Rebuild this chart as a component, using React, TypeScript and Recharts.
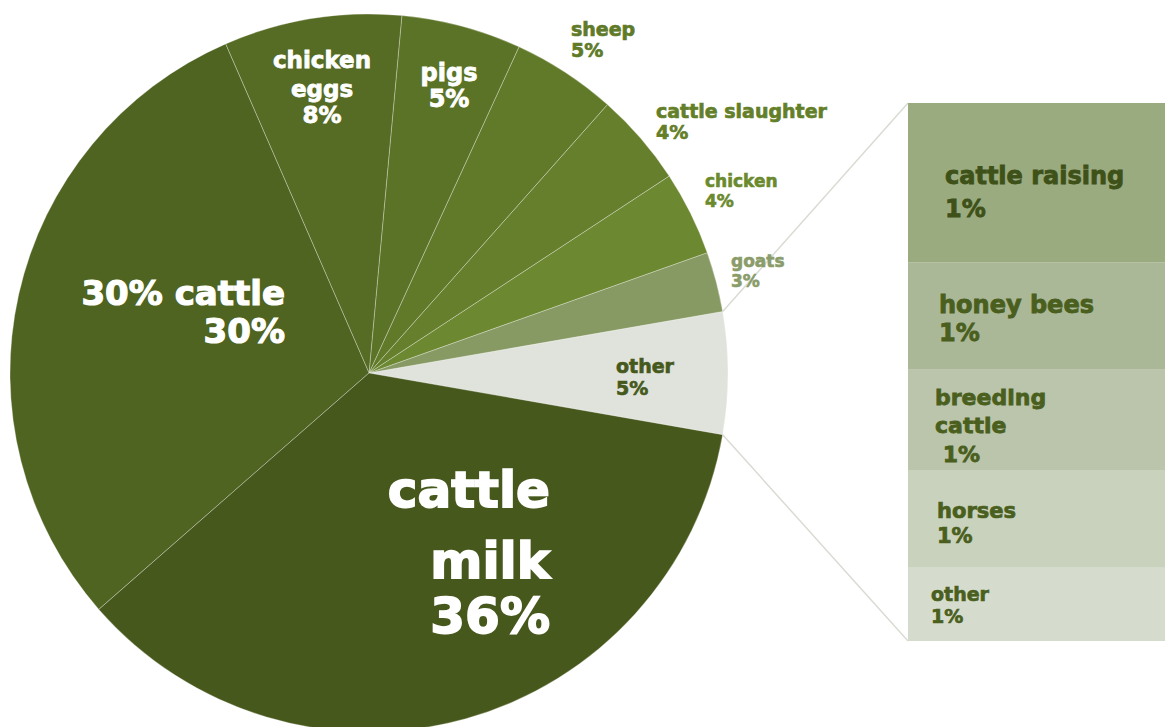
import { PieChart, Pie, Cell, BarChart, Bar, XAxis, YAxis } from "recharts"

// pie slices, counter-clockwise starting from "other"
const sliceNames = [
  "other",
  "goats",
  "chicken",
  "cattle slaughter",
  "sheep",
  "pigs",
  "chicken eggs",
  "30% cattle",
  "cattle milk",
]
const sliceValues = [5.49, 2.7, 3.8, 4.2, 4.7, 5.4, 8.0, 29.9, 35.81]
const sliceColors = [
  "#e0e3db",
  "#879a63",
  "#6c8830",
  "#667f2d",
  "#617a2a",
  "#5b7326",
  "#566b23",
  "#4f6420",
  "#47581d",
]

// breakdown of "other", top to bottom
const subNames = ["cattle raising", "honey bees", "breeding cattle", "horses", "other"]
const subValues = [1.48, 1.0, 0.93, 0.91, 0.68]
const subColors = ["#9bab80", "#abb898", "#bac5ab", "#c9d2bd", "#d5dccd"]

const FONT = "'DejaVu Sans', sans-serif"

type LabelCfg = {
  dx: number
  dys: number[]
  size: number
  anchor: "start" | "middle" | "end"
  color: string
  wrap?: boolean
}

const pieLabelCfg: Record<string, LabelCfg> = {
  "cattle milk": { dx: 181, dys: [134, 205, 260], size: 50, anchor: "end", color: "#fff", wrap: true },
  "30% cattle": { dx: -84, dys: [-68, -30], size: 34, anchor: "end", color: "#fff" },
  "chicken eggs": { dx: -47, dys: [-305, -276, -250], size: 23, anchor: "middle", color: "#fff", wrap: true },
  pigs: { dx: 80, dys: [-292, -266], size: 24, anchor: "middle", color: "#fff" },
  sheep: { dx: 202, dys: [-337, -316], size: 19, anchor: "start", color: "#5f7a28" },
  "cattle slaughter": { dx: 287, dys: [-255, -234], size: 19, anchor: "start", color: "#647f29" },
  chicken: { dx: 336, dys: [-186, -166], size: 17, anchor: "start", color: "#6b8a2e" },
  goats: { dx: 362, dys: [-106, -86], size: 17, anchor: "start", color: "#8a9c6a" },
  other: { dx: 247, dys: [0, 22], size: 19, anchor: "start", color: "#46591d" },
}

const subLabelCfg = [
  { dx: 37, dys: [1, 34], size: 24, wrap: false },
  { dx: 31, dys: [-3, 25], size: 24, wrap: false },
  { dx: 27, dys: [-15, 13, 42], size: 22, wrap: true },
  { dx: 29, dys: [-1, 24], size: 21, wrap: false },
  { dx: 23, dys: [-3, 18.5], size: 19, wrap: false },
]

const BAR_LEFT = 908
const BAR_TOP = 103
const BAR_W = 257
const BAR_H = 538

const pieData = sliceNames.map((name, i) => ({ name, value: sliceValues[i] }))
const barRow: Record<string, any> = { name: "other" }
subNames.forEach((n, i) => (barRow[`s${i}`] = subValues[i]))
const barTotal = subValues.reduce((a, b) => a + b, 0)

const RAD = Math.PI / 180
const polar = (cx: number, cy: number, r: number, a: number) => ({
  x: cx + r * Math.cos(-a * RAD),
  y: cy + r * Math.sin(-a * RAD),
})

const renderPieLabel = (props: any) => {
  const { cx, cy, name, value, index, outerRadius, startAngle, endAngle } = props
  const cfg = pieLabelCfg[name]
  if (!cfg) return null
  const words = cfg.wrap ? name.split(" ") : [name]
  const lines = [...words, `${Math.round(value)}%`]
  const x = cx + cfg.dx
  const top = polar(cx, cy, outerRadius, endAngle)
  const bottom = polar(cx, cy, outerRadius, startAngle)
  return (
    <g>
      {index === 0 && (
        <g>
          <line x1={top.x} y1={top.y} x2={BAR_LEFT} y2={BAR_TOP} stroke="#d9dcd3" strokeWidth={1.5} />
          <line x1={bottom.x} y1={bottom.y} x2={BAR_LEFT} y2={BAR_TOP + BAR_H} stroke="#d9dcd3" strokeWidth={1.5} />
        </g>
      )}
      {lines.map((t, i) => (
        <text
          key={i}
          x={x}
          y={cy + cfg.dys[i]}
          textAnchor={cfg.anchor}
          fill={cfg.color}
          stroke={cfg.color}
          strokeWidth={cfg.size * 0.035}
          fontSize={cfg.size}
          fontWeight="bold"
          fontFamily={FONT}
        >
          {t}
        </text>
      ))}
    </g>
  )
}

const makeBarLabel = (idx: number) => (props: any) => {
  const { x, y, height } = props
  const cfg = subLabelCfg[idx]
  const name = subNames[idx]
  const words = cfg.wrap ? name.split(" ") : [name]
  const lines = [...words, `${cfg.wrap ? " " : ""}${Math.round(subValues[idx])}%`]
  const mid = y + height / 2
  const color = idx === 0 ? "#3e5119" : "#4a5f1e"
  return (
    <g>
      {lines.map((t, i) => (
        <text
          key={i}
          x={x + cfg.dx}
          y={mid + cfg.dys[i]}
          fill={color}
          stroke={color}
          strokeWidth={cfg.size * 0.035}
          fontSize={cfg.size}
          fontWeight="bold"
          fontFamily={FONT}
          style={{ whiteSpace: "pre" }}
        >
          {t}
        </text>
      ))}
    </g>
  )
}

export default function App() {
  // bars stack bottom-up, so reverse the top-to-bottom order
  const order = subNames.map((_, i) => i).reverse()
  return (
    <div style={{ position: "absolute", left: 0, top: 0, width: 1165, height: 727, background: "#fff", overflow: "hidden" }}>
      <div style={{ position: "absolute", left: 0, top: 0 }}>
        <PieChart width={1165} height={727} margin={{ top: 0, right: 0, bottom: 0, left: 0 }}>
          <Pie
            data={pieData}
            dataKey="value"
            nameKey="name"
            cx={369}
            cy={373}
            outerRadius={359}
            startAngle={-9.9}
            endAngle={350.1}
            stroke="rgba(255,255,255,0.3)"
            strokeWidth={1}
            label={renderPieLabel}
            labelLine={false}
            isAnimationActive={false}
          >
            {pieData.map((d, i) => (
              <Cell key={d.name} fill={sliceColors[i]} />
            ))}
          </Pie>
        </PieChart>
      </div>
      <div style={{ position: "absolute", left: BAR_LEFT, top: BAR_TOP }}>
        <BarChart
          width={BAR_W}
          height={BAR_H}
          data={[barRow]}
          margin={{ top: 0, right: 0, bottom: 0, left: 0 }}
          barCategoryGap={0}
        >
          <XAxis dataKey="name" hide />
          <YAxis hide domain={[0, barTotal]} />
          {order.map((i) => (
            <Bar
              key={i}
              dataKey={`s${i}`}
              stackId="a"
              fill={subColors[i]}
              label={makeBarLabel(i)}
              isAnimationActive={false}
            />
          ))}
        </BarChart>
      </div>
    </div>
  )
}
